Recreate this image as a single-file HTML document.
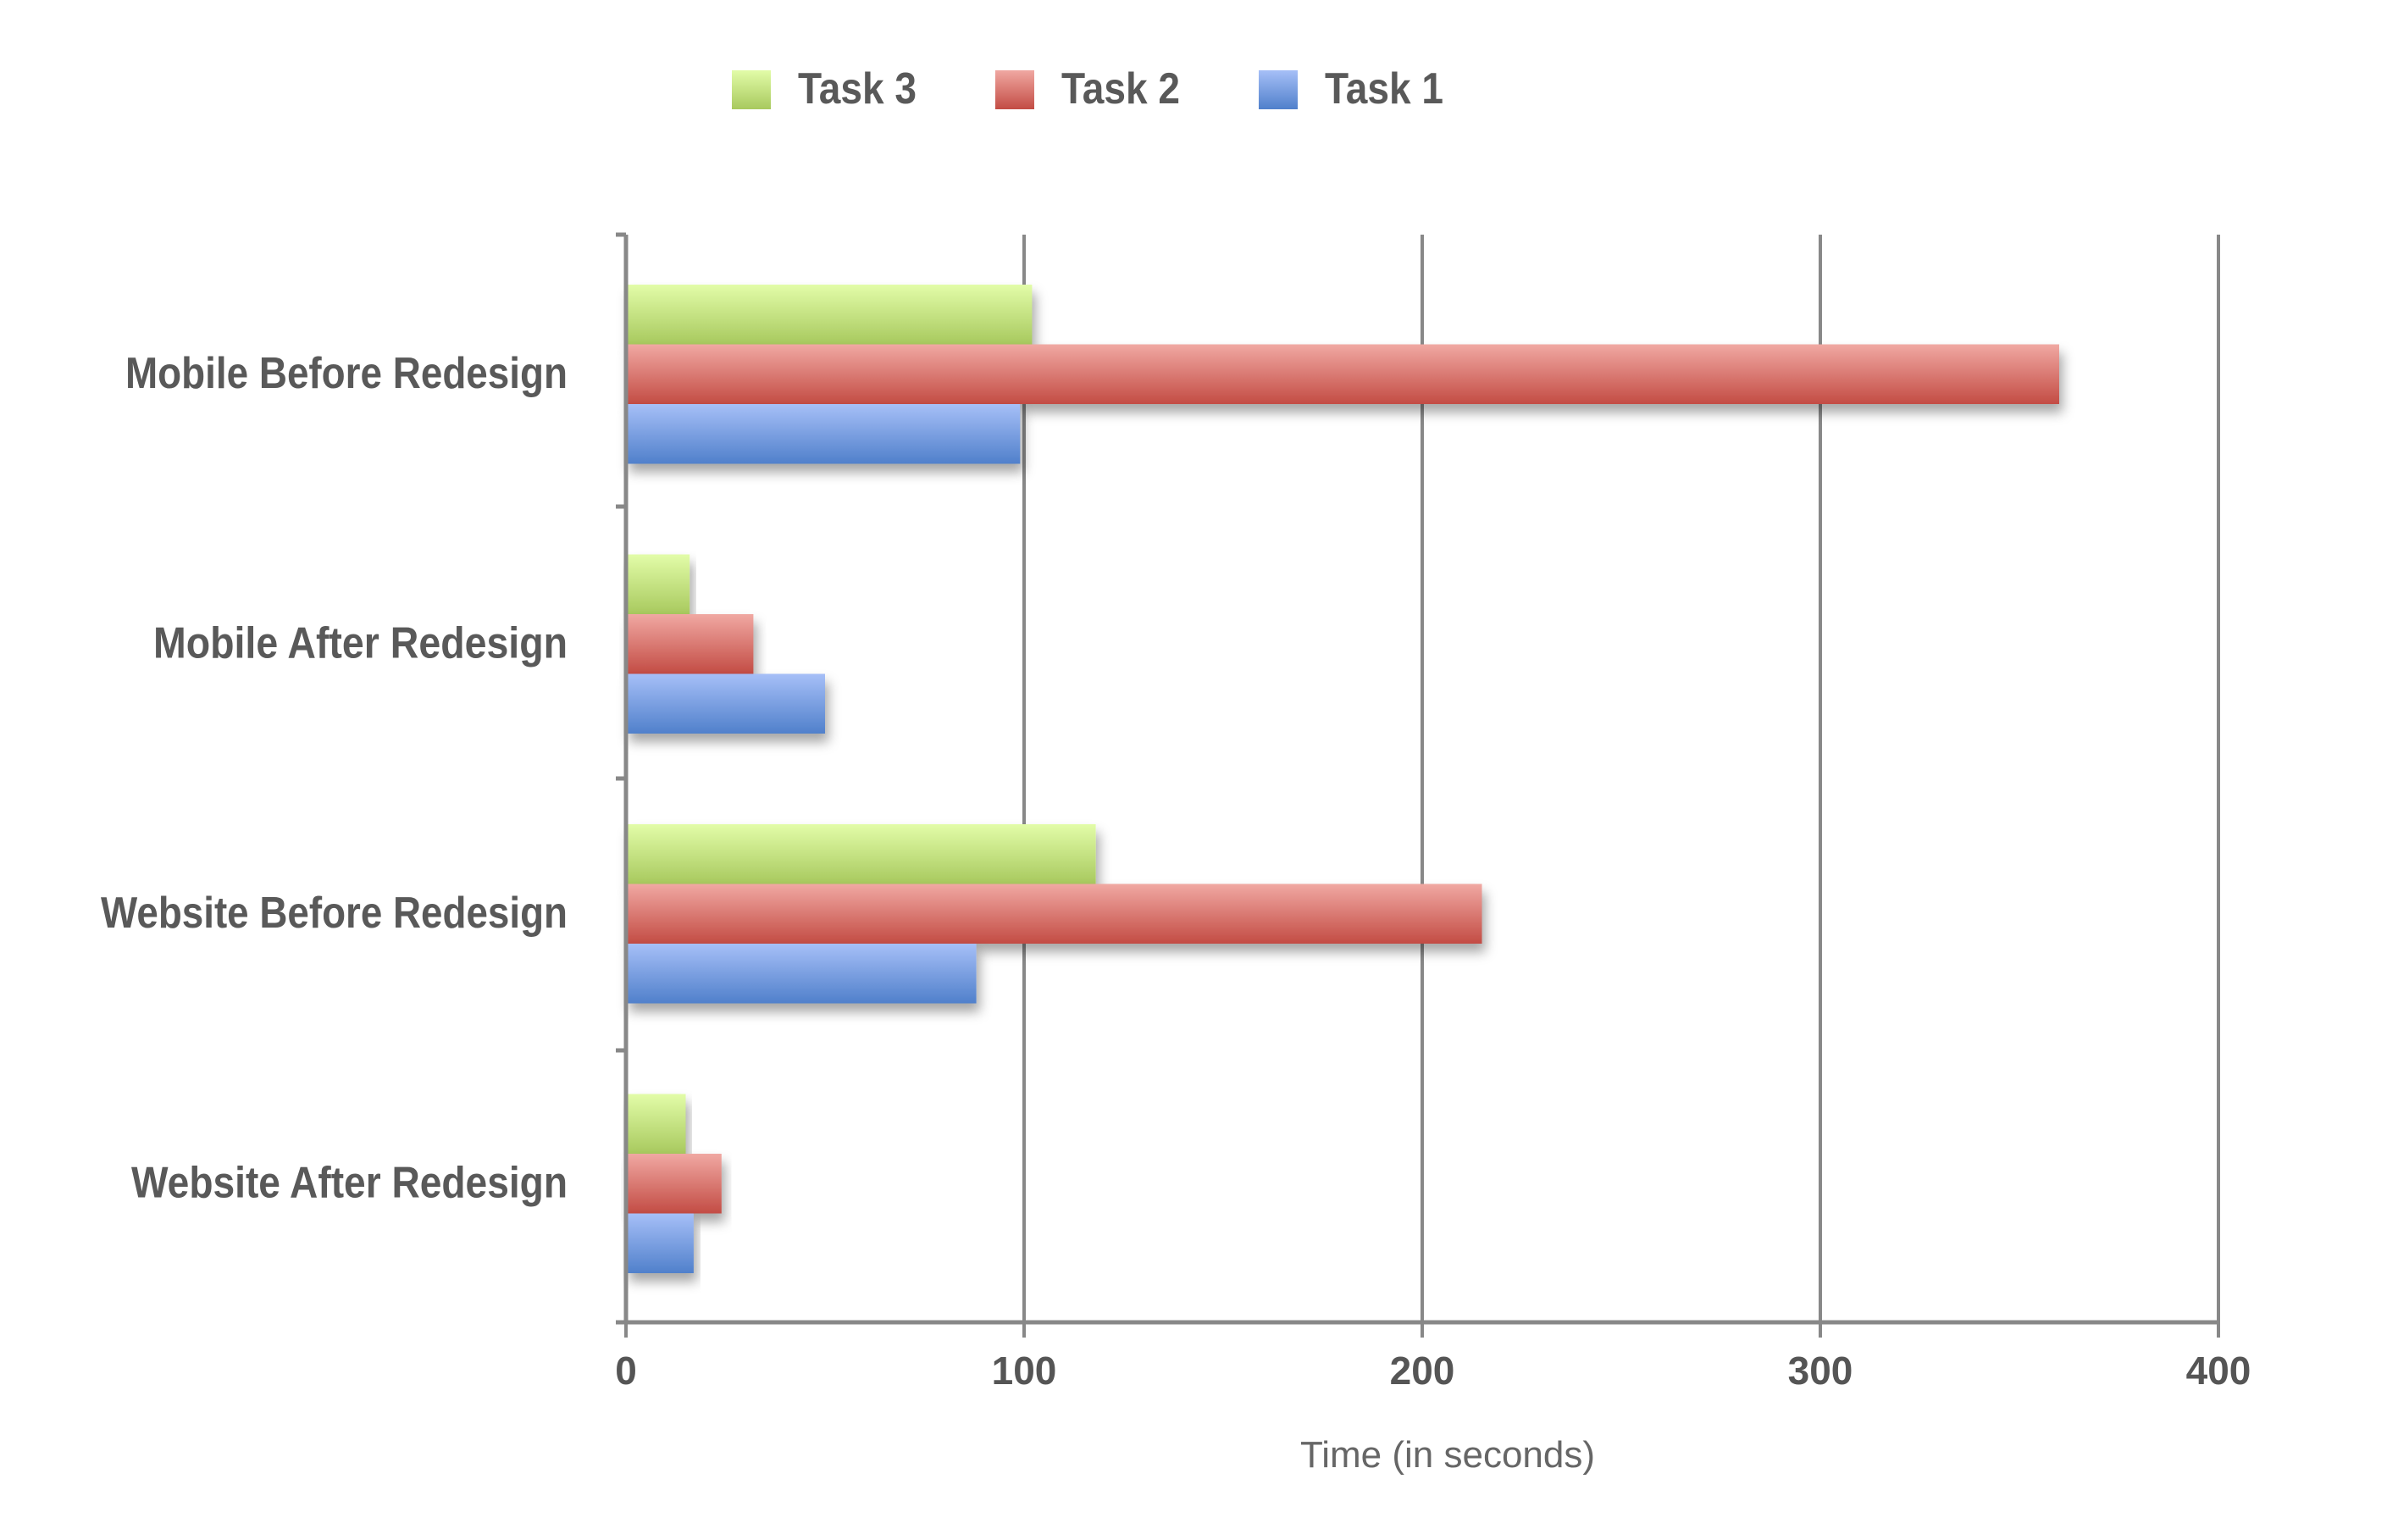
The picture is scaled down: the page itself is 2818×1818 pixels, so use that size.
<!DOCTYPE html>
<html><head><meta charset="utf-8">
<style>
html,body{margin:0;padding:0;background:#fff;}
svg{display:block;font-family:"Liberation Sans",sans-serif;}
</style></head>
<body>
<svg id="chart" width="2818" height="1818" viewBox="0 0 2818 1818" xmlns="http://www.w3.org/2000/svg">
<defs>
<linearGradient id="gT3" x1="0" y1="0" x2="0" y2="1"><stop offset="0" stop-color="#e2fca8"/><stop offset="1" stop-color="#a8c95e"/></linearGradient>
<linearGradient id="gT2" x1="0" y1="0" x2="0" y2="1"><stop offset="0" stop-color="#f0a8a2"/><stop offset="1" stop-color="#c34c44"/></linearGradient>
<linearGradient id="gT1" x1="0" y1="0" x2="0" y2="1"><stop offset="0" stop-color="#a6bff7"/><stop offset="1" stop-color="#5080cb"/></linearGradient>
<filter id="sh" x="-5%" y="-30%" width="115%" height="180%"><feDropShadow dx="4" dy="10" stdDeviation="7" flood-color="#000" flood-opacity="0.35"/></filter>
</defs>
<g id="grid"></g>
<g id="bars"></g>
<g id="axes"></g>
<g id="labels"></g>
<g id="legend"></g>
</svg>
<script>
const categories = ["Mobile Before Redesign","Mobile After Redesign","Website Before Redesign","Website After Redesign"];
const task3 = [102, 16, 118, 15];
const task2 = [360, 32, 215, 24];
const task1 = [99, 50, 88, 17];
const xTicks = [0, 100, 200, 300, 400];
const labelWidths = [522, 489, 551, 515];

const NS = "http://www.w3.org/2000/svg";
const X0 = 739, X1 = 2619, XMAX = 400, TOP = 277, BOT = 1561;
const band = (BOT - TOP) / categories.length;
const barH = 70.5, groupOff = 59, groupPitch = 318.5;
function xs(v){ return X0 + (X1 - X0) * v / XMAX; }
function mk(tag, attrs, parent){ const e=document.createElementNS(NS,tag); for(const k in attrs) e.setAttribute(k,attrs[k]); parent.appendChild(e); return e; }
const grid=document.getElementById('grid'), bars=document.getElementById('bars'), axes=document.getElementById('axes'), labels=document.getElementById('labels'), legend=document.getElementById('legend');

xTicks.forEach(t=>{
  if(t===0) return;
  const l=mk('line',{x1:xs(t),x2:xs(t),y1:TOP,y2:BOT+18,stroke:'#888','stroke-width':4},grid);
  
  
});
xTicks.forEach(t=>{
  const tx=mk('text',{x:xs(t),y:1634,'text-anchor':'middle','font-size':46,fill:'#555','font-weight':'bold'},labels);
  tx.textContent=t;
  
  
});

const series=[{vals:task3,fill:'url(#gT3)',name:'task-3'},{vals:task2,fill:'url(#gT2)',name:'task-2'},{vals:task1,fill:'url(#gT1)',name:'task-1'}];
categories.forEach((c,i)=>{
  const y0=TOP+groupOff+groupPitch*i;
  series.forEach((s,j)=>{
    const r=mk('rect',{x:X0,y:y0+j*barH,width:xs(s.vals[i])-X0,height:barH,fill:s.fill,filter:'url(#sh)'},bars);
    
    
  });
  const tx=mk('text',{x:670,y:y0+106+16,'text-anchor':'end','font-size':52,fill:'#595959','font-weight':'bold',textLength:labelWidths[i],lengthAdjust:'spacingAndGlyphs'},labels);
  tx.textContent=c;
  
  
});

const ya=mk('line',{x1:X0,x2:X0,y1:TOP,y2:BOT,stroke:'#888','stroke-width':5},axes);


for(let i=0;i<=categories.length;i++){
  const tk=mk('line',{x1:X0-12,x2:X0,y1:TOP+band*i,y2:TOP+band*i,stroke:'#888','stroke-width':5},axes);
  
  
}
const xa=mk('line',{x1:X0-12,x2:X1+2,y1:BOT,y2:BOT,stroke:'#888','stroke-width':5},axes);


const zt=mk('line',{x1:X0,x2:X0,y1:BOT,y2:BOT+18,stroke:'#888','stroke-width':4},axes);



const at=mk('text',{x:1709,y:1732,'text-anchor':'middle','font-size':44,fill:'#666'},labels);
at.textContent='Time (in seconds)';



const leg=[{t:'Task 3',f:'url(#gT3)',x:864},{t:'Task 2',f:'url(#gT2)',x:1175},{t:'Task 1',f:'url(#gT1)',x:1486}];
leg.forEach((l,i)=>{
  const g=mk('g',{},legend);
  
  
  const r=mk('rect',{x:l.x,y:83,width:46,height:46,fill:l.f},g);
  
  
  const tx=mk('text',{x:l.x+78,y:122,'font-size':52,fill:'#595959','font-weight':'bold',textLength:140,lengthAdjust:'spacingAndGlyphs'},g);
  tx.textContent=l.t;
  
  
});
</script>
</body></html>
